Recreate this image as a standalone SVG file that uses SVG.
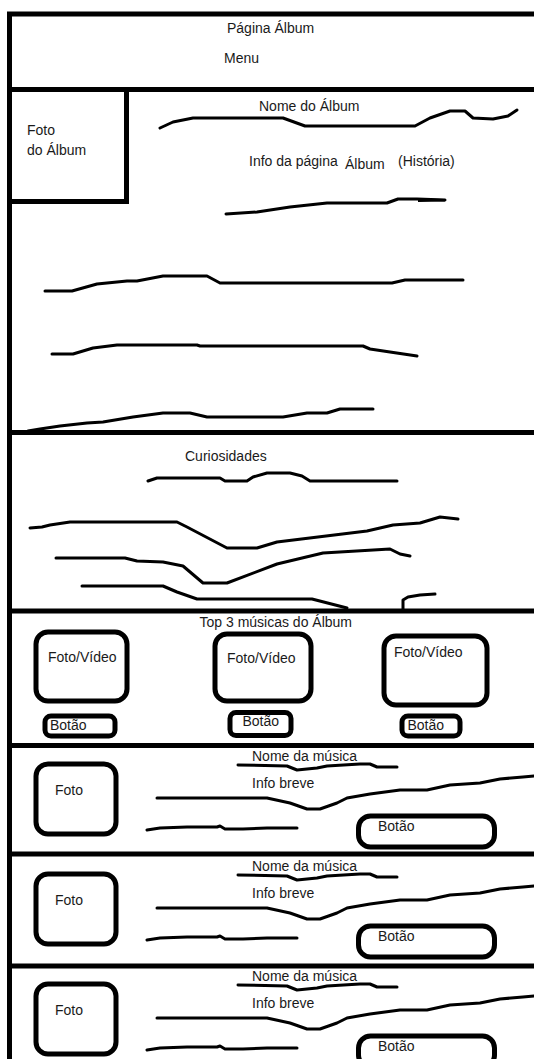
<svg xmlns="http://www.w3.org/2000/svg" width="534" height="1059" viewBox="0 0 534 1059">
<style>
.t{font-family:"Liberation Sans",Arial,sans-serif;font-size:14px;fill:#1a1a1a}
.frame{stroke:#000;stroke-width:5;fill:none}
.box{stroke:#000;stroke-width:5;fill:none}
.sc{stroke:#000;stroke-width:3;fill:none;stroke-linecap:round;stroke-linejoin:round}
</style>
<defs>
<g id="row">
  <rect class="box" x="36" y="764" width="80" height="70" rx="12"/>
  <text class="t" x="55" y="795">Foto</text>
  <text class="t" x="252" y="761">Nome da música</text>
  <polyline class="sc" points="238,765 287,766 297,770 317,768 327,766 360,764 370,764 377,767 397,767"/>
  <text class="t" x="252" y="788">Info breve</text>
  <polyline class="sc" points="157,798 267,798 290,803 307,809 320,809 337,803 347,798 370,794 400,790 427,790 450,785 480,783 500,779 523,777 534,776"/>
  <polyline class="sc" points="147,830 160,828 187,827 217,827 220,826 225,829 243,829 267,828 297,828"/>
  <rect class="box" x="358.5" y="816" width="136" height="31" rx="12"/>
  <text class="t" x="378" y="831">Botão</text>
</g>
</defs>
<rect x="0" y="0" width="534" height="1059" fill="#fff"/>

<g id="frame">
  <line class="frame" x1="7" y1="14" x2="534" y2="14"/>
  <line class="frame" x1="9.5" y1="12" x2="9.5" y2="1059"/>
  <line class="frame" x1="7" y1="89.5" x2="534" y2="89.5"/>
  <line class="frame" x1="7" y1="432.5" x2="534" y2="432.5"/>
  <line class="frame" x1="7" y1="611" x2="534" y2="611"/>
  <line class="frame" x1="7" y1="745.5" x2="534" y2="745.5"/>
  <line class="frame" x1="7" y1="854" x2="534" y2="854"/>
  <line class="frame" x1="7" y1="966" x2="534" y2="966"/>
</g>

<g id="header">
  <text class="t" x="227" y="32.5">Página Álbum</text>
  <text class="t" x="224" y="63">Menu</text>
</g>

<g id="album-photo">
  <polyline class="frame" points="9.5,201.5 126.5,201.5 126.5,89.5"/>
  <text class="t" x="27" y="135">Foto</text>
  <text class="t" x="27" y="155">do Álbum</text>
</g>

<g id="album-info">
  <text class="t" x="259" y="111">Nome do Álbum</text>
  <polyline class="sc" points="160,128 173,122 193,118 283,118 305,126 415,126 430,118 450,111 465,111 473,118 493,119 508,116 517,110"/>
  <text class="t" x="249" y="166">Info da página</text>
  <text class="t" x="345" y="169">Álbum</text>
  <text class="t" x="398" y="165.5">(História)</text>
  <polyline class="sc" points="226,214 257,212 290,207 327,203 387,203 398,199 417,199 445,200"/>
  <path d="M418,198.5 L444,199 L445,201.5 L418,202 Z" fill="#000"/>
  <polyline class="sc" points="45,291 72,291 97,284 127,281 137,281 163,276 207,276 220,283 392,283 405,280 463,280"/>
  <polyline class="sc" points="52,354 73,354 93,348 117,345 197,345 200,346 363,346 370,349 390,352 417,356"/>
  <polyline class="sc" points="28,431 40,429 60,426 87,423 103,422 133,417 163,413 190,413 207,417 283,417 307,413 327,413 340,409 373,409"/>
</g>

<g id="curiosidades">
  <text class="t" x="185" y="460.5">Curiosidades</text>
  <polyline class="sc" points="148,481 157,478 220,478 225,481 247,481 253,477 267,473 290,473 302,476 310,481 397,481"/>
  <polyline class="sc" points="30,528 42,527 50,525 70,522 177,522 187,527 227,548 257,548 277,542 367,531 393,525 420,523 440,517 458,519"/>
  <polyline class="sc" points="56,558 125,558 137,561 163,562 183,566 203,583 227,583 277,564 323,553 390,549 400,554 410,556"/>
  <polyline class="sc" points="82,586 163,586 177,592 197,599 312,599 347,608"/>
  <polyline class="sc" points="403,609 403,600 408,597 420,595 435,594"/>
</g>

<g id="top3">
  <text class="t" x="199.5" y="626.5">Top 3 músicas do Álbum</text>
  <rect class="box" x="36" y="632" width="91" height="69" rx="12"/>
  <text class="t" x="48" y="662">Foto/Vídeo</text>
  <rect class="box" x="45" y="716" width="70" height="20" rx="6"/>
  <text class="t" x="50" y="730">Botão</text>
  <rect class="box" x="215" y="634" width="96" height="67" rx="12"/>
  <text class="t" x="227" y="663">Foto/Vídeo</text>
  <rect class="box" x="230" y="712.5" width="61" height="23" rx="6"/>
  <text class="t" x="242.5" y="725.5">Botão</text>
  <rect class="box" x="384" y="636" width="103" height="69" rx="12"/>
  <text class="t" x="394" y="656.5">Foto/Vídeo</text>
  <rect class="box" x="402" y="716" width="58" height="20" rx="6"/>
  <text class="t" x="407.5" y="730">Botão</text>
</g>

<g id="song-1"><use href="#row"/></g>
<g id="song-2"><use href="#row" transform="translate(0,110)"/></g>
<g id="song-3"><use href="#row" transform="translate(0,220)"/></g>
</svg>
